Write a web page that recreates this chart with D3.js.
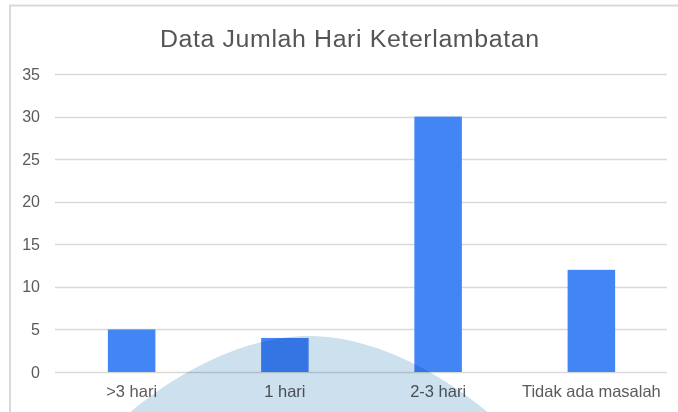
<!DOCTYPE html>
<html>
<head>
<meta charset="utf-8">
<script src="https://cdn.jsdelivr.net/npm/d3@7"></script>
<style>
  body { margin: 0; background: #fff; }
  svg { display: block; font-family: "Liberation Sans", Arial, sans-serif; }
</style>
</head>
<body>
<svg id="chart" width="678" height="412"></svg>
<script>
'use strict';

var categories = ['>3 hari', '1 hari', '2-3 hari', 'Tidak ada masalah'];
var values = [5, 4, 30, 12];
var yTicks = [0, 5, 10, 15, 20, 25, 30, 35];
var chartTitle = 'Data Jumlah Hari Keterlambatan';

var WIDTH = 678;
var HEIGHT = 412;
var BAR_COLOR = '#4285f4';
var GRID_COLOR = '#d9d9d9';
var TEXT_COLOR = '#5b5b5b';

var svg = d3.select('#chart');

svg.append('rect')
  .attr('width', WIDTH)
  .attr('height', HEIGHT)
  .attr('fill', '#fff');

// frame of the chart area (only top and left edges show)
svg.append('path')
  .attr('d', 'M10,' + HEIGHT + 'V5.5H' + WIDTH)
  .attr('fill', 'none')
  .attr('stroke', GRID_COLOR)
  .attr('stroke-width', 2);

var x = d3.scaleBand()
  .domain(categories)
  .range([55, 668])
  .paddingInner(0.69)
  .paddingOuter(0.345);

var y = d3.scaleLinear()
  .domain([0, 35])
  .range([372, 74]);

// gridlines
svg.append('g')
  .attr('class', 'grid')
  .selectAll('line')
  .data(yTicks)
  .enter()
  .append('line')
  .attr('x1', 55)
  .attr('x2', 667)
  .attr('y1', function(d) { return Math.round(y(d)) + 0.5; })
  .attr('y2', function(d) { return Math.round(y(d)) + 0.5; })
  .attr('stroke', GRID_COLOR)
  .attr('stroke-width', 1.3);

// y axis labels
var yAxis = svg.append('g')
  .attr('transform', 'translate(40,0)')
  .call(d3.axisLeft(y).tickValues(yTicks).tickSize(0).tickPadding(0));
yAxis.select('.domain').remove();
yAxis.selectAll('text')
  .attr('fill', TEXT_COLOR)
  .attr('font-size', 16)
  .attr('font-family', '"Liberation Sans", Arial, sans-serif');

// bars
svg.append('g')
  .attr('class', 'bars')
  .selectAll('rect')
  .data(values)
  .enter()
  .append('rect')
  .attr('x', function(d, i) { return x(categories[i]); })
  .attr('y', function(d) { return y(d); })
  .attr('width', x.bandwidth())
  .attr('height', function(d) { return y(0) - y(d); })
  .attr('fill', BAR_COLOR);

// x axis labels
var xAxis = svg.append('g')
  .attr('transform', 'translate(0,372)')
  .call(d3.axisBottom(x).tickSize(0).tickPadding(13));
xAxis.select('.domain').remove();
xAxis.selectAll('text')
  .attr('fill', TEXT_COLOR)
  .attr('font-size', 16.5)
  .attr('font-family', '"Liberation Sans", Arial, sans-serif');

// title: glyphs in the original are a bit wider than Arial, so stretch slightly
var TITLE_STRETCH = 1.06;
svg.append('text')
  .attr('transform', 'translate(160,47) scale(' + TITLE_STRETCH + ',1)')
  .attr('font-size', 23.5)
  .attr('fill', '#555')
  .attr('textLength', 379 / TITLE_STRETCH)
  .attr('lengthAdjust', 'spacing')
  .text(chartTitle);

// faint dome of a logo watermark over the bottom of the page (decoration, not data)
var wm = d3.path();
wm.moveTo(128, 414);
wm.bezierCurveTo(198, 355, 264, 336, 309, 336);
wm.bezierCurveTo(354, 336, 419, 355, 490, 414);
wm.closePath();
svg.append('path')
  .attr('d', wm.toString())
  .attr('fill', '#cce0ee')
  .style('mix-blend-mode', 'multiply');
</script>
</body>
</html>
